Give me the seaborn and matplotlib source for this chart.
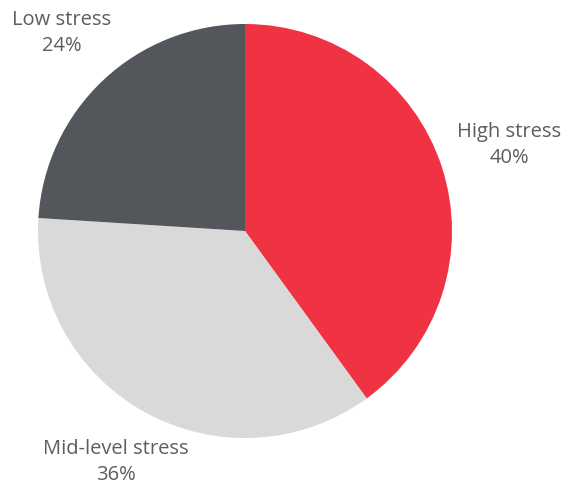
import matplotlib
matplotlib.use("Agg")
import matplotlib.pyplot as plt
import seaborn as sns

# Share of respondents by stress level
categories = ["High stress", "Mid-level stress", "Low stress"]
shares = [40, 36, 24]
colors = ["#f03342", "#d9d9d9", "#53565a"]

sns.set_theme(style="white")
plt.rcParams["font.family"] = ["Open Sans", "DejaVu Sans"]

W, H = 566, 486
fig = plt.figure(figsize=(W / 100, H / 100), dpi=100)
ax = fig.add_axes([0, 0, 1, 1])

cx, cy, r = 245, H - 231, 207
ax.pie(shares, colors=colors, startangle=90, counterclock=False,
       center=(cx, cy), radius=r, frame=True,
       wedgeprops=dict(linewidth=0))
ax.set_xlim(0, W)
ax.set_ylim(0, H)
ax.set_aspect("equal")
ax.axis("off")

label_pos = {
    "High stress": (509, H - 145),
    "Mid-level stress": (116, H - 462),
    "Low stress": (62, H - 33),
}
for name, val in zip(categories, shares):
    x, y = label_pos[name]
    ax.text(x, y, f"{name}\n{val}%", ha="center", va="center",
            fontsize=14.5, color="#5a5d61", linespacing=1.35)

fig.savefig("out.png", dpi=100)
